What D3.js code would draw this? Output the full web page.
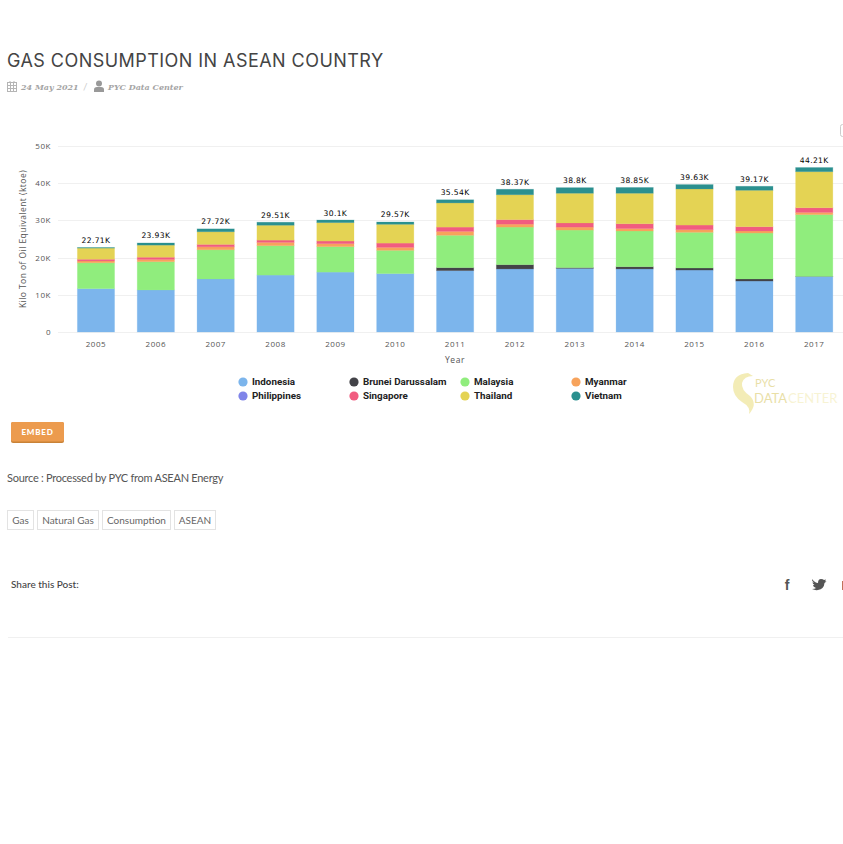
<!DOCTYPE html>
<html>
<head>
<meta charset="utf-8">
<script src="https://cdn.jsdelivr.net/npm/d3@7"></script>
<style>
    html, body { margin: 0; padding: 0; background: #fff; overflow: hidden; }
    svg { display: block; }
    .axis-text { font-family: "Open Sans", sans-serif; font-size: 8px; fill: #555; letter-spacing: 0.55px; }
</style>
</head>
<body>
<div id="page"></div>
<script>
// Chart data, values in thousand toe.
var years       = ["2005","2006","2007","2008","2009","2010","2011","2012","2013","2014","2015","2016","2017"];
var indonesia   = [11.65, 11.3, 14.25, 15.3, 16.1, 15.7, 16.5, 16.95, 17.1, 16.95, 16.65, 13.7, 14.9];
var brunei      = [0, 0, 0, 0, 0, 0, 0.8, 1.15, 0.2, 0.6, 0.55, 0.55, 0.05];
var malaysia    = [6.95, 7.6, 7.85, 7.9, 6.85, 6.25, 8.7, 10.1, 10.1, 9.6, 9.6, 12.35, 16.6];
var myanmar     = [0.5, 0.6, 0.8, 0.9, 0.8, 0.8, 1.05, 0.8, 0.8, 0.65, 0.7, 0.55, 0.6];
var philippines = [0, 0, 0, 0, 0, 0, 0, 0, 0, 0, 0, 0, 0];
var singapore   = [0.45, 0.6, 0.65, 0.6, 0.7, 1.15, 1.15, 1.2, 1.1, 1.3, 1.25, 1.15, 1.25];
var thailand    = [3.0, 3.25, 3.4, 4.0, 4.95, 5.05, 6.5, 6.7, 8.0, 8.2, 9.7, 9.8, 9.7];
var vietnam     = [0.16, 0.58, 0.77, 0.81, 0.7, 0.62, 0.84, 1.47, 1.5, 1.55, 1.18, 1.07, 1.11];
var totals      = ["22.71K","23.93K","27.72K","29.51K","30.1K","29.57K","35.54K","38.37K","38.8K","38.85K","39.63K","39.17K","44.21K"];
var yTicks      = [0, 10, 20, 30, 40, 50];

var seriesNames  = ["Indonesia","Brunei Darussalam","Malaysia","Myanmar","Philippines","Singapore","Thailand","Vietnam"];
var seriesValues = [indonesia, brunei, malaysia, myanmar, philippines, singapore, thailand, vietnam];
var seriesColors = ["#7cb5ec","#434348","#90ed7d","#f7a35c","#8085e9","#f15c80","#e4d354","#2b908f"];
var tags         = ["Gas","Natural Gas","Consumption","ASEAN"];
var tagEdges     = [[7.5,33.5],[37.5,98.5],[102.5,170.5],[174.5,215.5]];

var svg = d3.select("#page").append("svg")
            .attr("width", 843)
            .attr("height", 844);

/* ---------------------------------------------------------- */
/* Post header.                                               */
/* ---------------------------------------------------------- */
svg.append("text").attr("x", 7).attr("y", 67)
   .attr("font-family", "Inter, sans-serif").attr("font-size", 18).attr("font-weight", 400)
   .attr("fill", "#444").attr("letter-spacing", 0.45)
   .text("GAS CONSUMPTION IN ASEAN COUNTRY");

// Calendar icon.
var cal = svg.append("g").attr("fill", "none").attr("stroke", "#b5b5b5").attr("stroke-width", 1);
cal.append("rect").attr("x", 7.5).attr("y", 82.5).attr("width", 9).attr("height", 9);
cal.append("path").attr("d", "M7.5 85.5H16.5M7.5 88.5H16.5M10.5 82.5V91.5M13.5 82.5V91.5M10 81V83M14 81V83");

svg.append("text").attr("x", 21).attr("y", 90)
   .attr("font-family", "'DejaVu Serif', serif").attr("font-style", "italic").attr("font-weight", 700).attr("font-size", 8)
   .attr("fill", "#a5a5a5").text("24 May 2021");
svg.append("text").attr("x", 83).attr("y", 90)
   .attr("font-family", "Lato, sans-serif").attr("font-size", 10).attr("fill", "#ccc").text("/");

// Person icon.
svg.append("circle").attr("cx", 99).attr("cy", 83.5).attr("r", 3).attr("fill", "#999");
svg.append("path").attr("d", "M94 92V89.5Q94 87 97 87H101Q104 87 104 89.5V92Z").attr("fill", "#999");

svg.append("text").attr("x", 108).attr("y", 90)
   .attr("font-family", "'DejaVu Serif', serif").attr("font-style", "italic").attr("font-weight", 700).attr("font-size", 8)
   .attr("fill", "#a5a5a5").text("PYC Data Center");

/* ---------------------------------------------------------- */
/* Chart.                                                     */
/* ---------------------------------------------------------- */
var x = d3.scaleBand().domain(years).range([66.2, 844]).paddingInner(0.365).paddingOuter(0.18);
var y = d3.scaleLinear().domain([0, 50]).range([332, 146]);

// Menu button, cut off by the window edge.
svg.append("rect").attr("x", 840.5).attr("y", 124.5).attr("width", 12).attr("height", 12).attr("rx", 2)
   .attr("fill", "#fff").attr("stroke", "#ccc");

// Gridlines and y labels.
svg.selectAll(".grid").data(yTicks).enter().append("line")
   .attr("class", "grid")
   .attr("x1", 58).attr("x2", 843)
   .attr("y1", function(d) { return Math.round(y(d)) + 0.5; })
   .attr("y2", function(d) { return Math.round(y(d)) + 0.5; })
   .attr("stroke", "#f0f0f0").attr("stroke-width", 1);

svg.selectAll(".ytick").data(yTicks).enter().append("text")
   .attr("class", "ytick axis-text")
   .attr("x", 51).attr("y", function(d) { return y(d) + 3; })
   .attr("text-anchor", "end")
   .text(function(d) { return d === 0 ? "0" : d + "K"; });

svg.selectAll(".xtick").data(years).enter().append("text")
   .attr("class", "xtick axis-text")
   .attr("x", function(d) { return x(d) + x.bandwidth() / 2; }).attr("y", 347)
   .attr("text-anchor", "middle")
   .text(function(d) { return d; });

svg.append("text").attr("class", "axis-text")
   .attr("transform", "translate(26,239) rotate(-90)")
   .attr("text-anchor", "middle").style("letter-spacing", "0.45px").style("font-size", "8.5px")
   .text("Kilo Ton of Oil Equivalent (ktoe)");

svg.append("text").attr("class", "axis-text")
   .attr("x", 455).attr("y", 363).attr("text-anchor", "middle").style("font-size", "8.5px")
   .text("Year");

// Stacked bars.
var rows = years.map(function(year, i) {
    var row = { year: year };
    seriesNames.forEach(function(name, s) { row[name] = seriesValues[s][i]; });
    return row;
});
var stacked = d3.stack().keys(seriesNames)(rows);

svg.selectAll(".series").data(stacked).enter().append("g")
   .attr("class", "series")
   .attr("fill", function(d, i) { return seriesColors[i]; })
   .attr("stroke", function(d, i) { return seriesColors[i]; })
   .attr("stroke-width", 0.8).attr("stroke-opacity", 0.3)
   .selectAll("rect").data(function(d) { return d[0] !== undefined ? d : []; }).enter().append("rect")
   .attr("x", function(d) { return x(d.data.year) + 0.4; })
   .attr("width", x.bandwidth() - 0.8)
   .attr("y", function(d) { return y(d[1]); })
   .attr("height", function(d) { return y(d[0]) - y(d[1]); });

// Totals above the bars.
svg.selectAll(".total").data(years).enter().append("text")
   .attr("class", "total")
   .attr("x", function(d) { return x(d) + x.bandwidth() / 2; })
   .attr("y", function(d, i) { return y(d3.sum(seriesValues, function(s) { return s[i]; })) - 4.5; })
   .attr("text-anchor", "middle")
   .attr("font-family", "'DejaVu Sans', sans-serif").attr("font-size", 7.6).attr("fill", "#000")
   .attr("letter-spacing", 0.35)
   .text(function(d, i) { return totals[i]; });

// Legend, 4 columns and 2 rows.
var legend = svg.selectAll(".legend").data(seriesNames).enter().append("g")
   .attr("class", "legend")
   .attr("transform", function(d, i) {
       return "translate(" + (243 + (i % 4) * 111) + "," + (382 + Math.floor(i / 4) * 14) + ")";
   });
legend.append("circle").attr("r", 4.6).attr("fill", function(d, i) { return seriesColors[i]; });
legend.append("text").attr("x", 9).attr("y", 3.4)
   .attr("font-family", "Roboto, sans-serif").attr("font-size", 9.8).attr("font-weight", 700)
   .attr("fill", "#222").text(function(d) { return d; });

// Watermark logo.
var logo = svg.append("g").attr("opacity", 0.42);
logo.append("path")
    .attr("d", "M748 373Q733 374 733 387Q733 396 742 402Q751 407 749 414Q758 404 750 396Q741 390 742 383Q744 376 753 376Z")
    .attr("fill", "#e4d354");
logo.append("text").attr("x", 755).attr("y", 387)
    .attr("font-family", "Lato, sans-serif").attr("font-size", 11).attr("fill", "#cbb42e").text("PYC");
logo.append("text").attr("x", 754).attr("y", 403)
    .attr("font-family", "Lato, sans-serif").attr("font-size", 13).attr("fill", "#cbb42e").text("DATA");
logo.append("text").attr("x", 788).attr("y", 403)
    .attr("font-family", "Lato, sans-serif").attr("font-size", 13).attr("fill", "#e4d354").attr("opacity", 0.6).text("CENTER");

/* ---------------------------------------------------------- */
/* Below the chart.                                           */
/* ---------------------------------------------------------- */
svg.append("rect").attr("x", 11).attr("y", 422).attr("width", 53).attr("height", 21).attr("rx", 2).attr("fill", "#c98237");
svg.append("rect").attr("x", 11).attr("y", 422).attr("width", 53).attr("height", 19.5).attr("rx", 2).attr("fill", "#ec9b4e");
svg.append("text").attr("x", 37.5).attr("y", 435).attr("text-anchor", "middle")
   .attr("font-family", "Lato, sans-serif").attr("font-size", 8).attr("font-weight", 900)
   .attr("letter-spacing", 0.8).attr("fill", "#fff").text("EMBED");

svg.append("text").attr("x", 7).attr("y", 482)
   .attr("font-family", "Lato, sans-serif").attr("font-size", 11).attr("fill", "#555").attr("letter-spacing", -0.27)
   .text("Source : Processed by PYC from ASEAN Energy");

// Tags.
var tag = svg.selectAll(".tag").data(tags).enter().append("g").attr("class", "tag");
tag.append("rect")
   .attr("x", function(d, i) { return tagEdges[i][0]; }).attr("y", 510.5)
   .attr("width", function(d, i) { return tagEdges[i][1] - tagEdges[i][0]; }).attr("height", 19)
   .attr("fill", "#fff").attr("stroke", "#e3e3e3");
tag.append("text")
   .attr("x", function(d, i) { return (tagEdges[i][0] + tagEdges[i][1]) / 2; }).attr("y", 524)
   .attr("text-anchor", "middle")
   .attr("font-family", "Lato, sans-serif").attr("font-size", 10).attr("fill", "#666")
   .text(function(d) { return d; });

svg.append("text").attr("x", 11).attr("y", 588)
   .attr("font-family", "Lato, sans-serif").attr("font-size", 10).attr("font-weight", 500).attr("fill", "#444")
   .text("Share this Post:");

// Share icons.
svg.append("text").attr("x", 787).attr("y", 590).attr("text-anchor", "middle")
   .attr("font-family", "'Liberation Sans', sans-serif").attr("font-size", 14).attr("font-weight", 700)
   .attr("fill", "#555").text("f");
svg.append("path")
   .attr("transform", "translate(0,-2)")
   .attr("d", "M812 581Q815 585 818 585Q818 581 821 581Q823 581 824 582L826 581.5L825 583.5L826.5 583Q825.5 584.5 824.5 585Q824 591 818 592Q815 592.5 812 591Q815 591 816 590Q813 589 813 587H814.5Q812.5 586 812.5 584Q813 584.5 814 584.5Q811.5 583 812 581Z")
   .attr("fill", "#555");
svg.append("rect").attr("x", 842).attr("y", 581).attr("width", 1).attr("height", 9).attr("fill", "#c1725a");

svg.append("line").attr("x1", 8).attr("x2", 843).attr("y1", 637.5).attr("y2", 637.5).attr("stroke", "#f0f0f0");
</script>
</body>
</html>
